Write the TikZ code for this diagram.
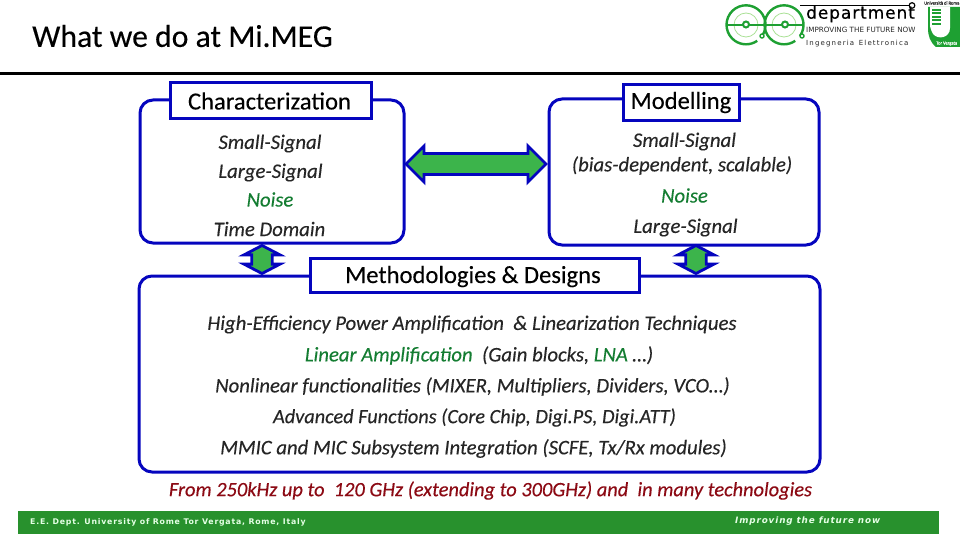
\documentclass[tikz,border=0pt]{standalone}
\usepackage{fontspec}
\setmainfont[FakeBold=0.25]{Carlito}
\newfontfamily\verd{DejaVu Sans}
\newfontfamily\verdb[FakeBold=0.6]{DejaVu Sans}
\newfontfamily\verdsp[LetterSpace=10]{DejaVu Sans}
\usetikzlibrary{shapes.arrows}
\definecolor{bblue}{RGB}{5,5,190}
\definecolor{tgray}{RGB}{38,38,38}
\definecolor{ngreen}{RGB}{20,125,50}
\definecolor{agreen}{RGB}{60,180,75}
\definecolor{fgreen}{RGB}{40,145,45}
\definecolor{lgreen}{RGB}{30,160,50}
\definecolor{llgreen}{RGB}{170,225,150}
\definecolor{dred}{RGB}{140,10,20}
\tikzset{
 panel/.style={draw=bblue,line width=3pt,rounded corners=13pt,fill=white},
 tab/.style={draw=bblue,line width=3pt,fill=white,inner sep=0pt,font=\fontsize{24.6}{26}\selectfont\color{black}},
 item/.style={font=\fontsize{20.7}{23}\selectfont\itshape,text=tgray,inner sep=0pt,anchor=center},
 darrow/.style={double arrow,draw=bblue,fill=agreen,line width=2.8pt,inner sep=0pt,outer sep=0pt,text depth=0pt},
 logo/.style={draw=lgreen,line width=2.4pt}
}
\begin{document}
\begin{tikzpicture}[x=1pt,y=-1pt]
\useasboundingbox (0,0) rectangle (960,540);
\fill[white] (0,0) rectangle (960,540);
\node[anchor=west,inner sep=0pt,font=\fontsize{31.7}{34}\selectfont\color{black}] (title) at (32,36) {What we do at Mi.MEG};
\fill[black] (0,72.5) rectangle (960,75.5);
% logo
\draw[llgreen,line width=.8pt] (746,25) circle (12);
\draw[llgreen,line width=.8pt] (784,25) circle (12);
\draw[logo] (762,36) arc (35:-305:19.5);
\draw[logo] (800,36) arc (35:-305:19.5);
\draw[logo,line width=2pt] (727,25) -- (804,25);
\draw[logo,fill=white,line width=2pt] (746,24.5) circle (3);
\draw[logo,fill=white,line width=2pt] (785,24.5) circle (3);
\draw[logo,fill=white,line width=1.4pt] (762,36) circle (2);
\draw[logo,fill=white,line width=1.4pt] (802,36) circle (2);
\draw[black,line width=1.5pt] (800,5.5) -- (910,5.5);
\draw[black,line width=1.2pt,fill=white] (912,5.5) circle (2.8);
\node[inner sep=0pt,anchor=west,font=\fontsize{17}{18}\selectfont\verdb\color{black}] (dept) at (806,14) {d\kern.9pt e\kern.9pt p\kern.9pt a\kern.9pt r\kern.9pt t\kern.9pt m\kern.9pt e\kern.9pt n\kern.9pt t};
\node[inner sep=0pt,anchor=west,font=\fontsize{7.2}{8}\selectfont\verd\color{tgray}] (impr) at (806,29.5) {IMPROVING THE FUTURE NOW};
\node[inner sep=0pt,anchor=west,font=\fontsize{7}{8}\selectfont\verd\color{tgray}] (ing) at (806,44) {I\,n\,g\,e\,g\,n\,e\,r\,i\,a\, \,E\,l\,e\,t\,t\,r\,o\,n\,i\,c\,a};
\fill[lgreen] (928,7) -- (960,7) -- (960,47) -- (936,47) .. controls (930,42) and (928,36) .. (928,28) -- cycle;
\fill[white] (930,7) -- (950,7) -- (950,28) .. controls (950,38) and (938,40) .. (933,34) .. controls (931,30) and (930,28) .. (930,24) -- cycle;
\foreach \yy in {10,13.5,17,20.5,24}{\draw[lgreen,line width=2pt] (932,\yy) -- (941,\yy);}
\node[inner sep=0pt,anchor=west,font=\fontsize{4.6}{5}\selectfont\color{tgray}] (unirm) at (924,3) {Università di Roma};
\node[inner sep=0pt,anchor=west,font=\fontsize{4.6}{5}\selectfont\color{white}] (torv) at (936,43.5) {Tor Vergata};
% panels
\draw[panel] (140,100) rectangle (404,243);
\draw[panel] (549,99) rectangle (819,245);
\draw[panel] (139,276) rectangle (820,472);
% arrows
\node[darrow,text height=14pt,minimum width=36pt,minimum height=140pt,double arrow head extend=6pt,double arrow tip angle=90] (ah) at (476,164) {};
\node[darrow,text height=13pt,rotate=90,minimum width=36pt,minimum height=28pt,double arrow head extend=6pt,double arrow tip angle=125] (al) at (262,259.5) {};
\node[darrow,text height=13pt,rotate=90,minimum width=36pt,minimum height=28pt,double arrow head extend=6pt,double arrow tip angle=125] (ar) at (696,259.5) {};
% tabs
\node[tab,minimum width=201pt,minimum height=36pt] (char) at (271,101) {\hspace*{-3pt}Characterization};
\node[tab,minimum width=116pt,minimum height=36pt] (mod) at (681,102.5) {Modelling};
\node[tab,minimum width=329pt,minimum height=34pt,text height=18pt,text depth=2pt] (meth) at (474.5,275) {\hspace*{-3pt}Methodologies \& Designs};
% left
\node[item] (l1) at (270,143.5) {Small-Signal};
\node[item] (l2) at (270.5,172.5) {Large-Signal};
\node[item,text=ngreen] (l3) at (270,199.5) {Noise};
\node[item] (l4) at (269.5,229) {Time Domain};
% right
\node[item] (r1) at (684.5,141.5) {Small-Signal};
\node[item] (r2) at (682,165.5) {(bias-dependent, scalable)};
\node[item,text=ngreen] (r3) at (684.5,195.5) {Noise};
\node[item] (r4) at (685.5,227.5) {Large-Signal};
% methods
\node[item] (m1) at (472,324.5) {High-Efficiency Power Amplification\ \ \& Linearization Techniques};
\node[item] (m2) at (479,355.5) {\textcolor{ngreen}{Linear Amplification}\ \ (Gain blocks,\ \textcolor{ngreen}{LNA} …)};
\node[item] (m3) at (472.5,386.5) {Nonlinear functionalities (MIXER, Multipliers, Dividers, VCO…)};
\node[item,font=\fontsize{20.3}{23}\selectfont\itshape] (m4) at (474.5,417.5) {Advanced Functions\ (Core Chip, Digi.PS, Digi.ATT)};
\node[item] (m5) at (473.5,448.5) {MMIC and MIC Subsystem Integration (SCFE, Tx/Rx modules)};
\node[item,text=dred,font=\fontsize{20.4}{23}\selectfont\itshape] (freq) at (490.5,490.5) {From 250kHz up to\ \ 120 GHz (extending to 300GHz) and\ \ in many technologies};
% footer
\fill[fgreen] (18,511) rectangle (939,534);
\node[inner sep=0pt,anchor=west,font=\fontsize{7.8}{9}\selectfont\verdsp\bfseries\color{white!90!green}] (fl) at (30,522) {E.E. Dept. University of Rome Tor Vergata, Rome, Italy};
\node[inner sep=0pt,anchor=west,font=\fontsize{8.8}{9}\selectfont\verdsp\bfseries\itshape\color{white!90!green}] (fr) at (735,521) {Improving the future now};
\end{tikzpicture}
\end{document}
